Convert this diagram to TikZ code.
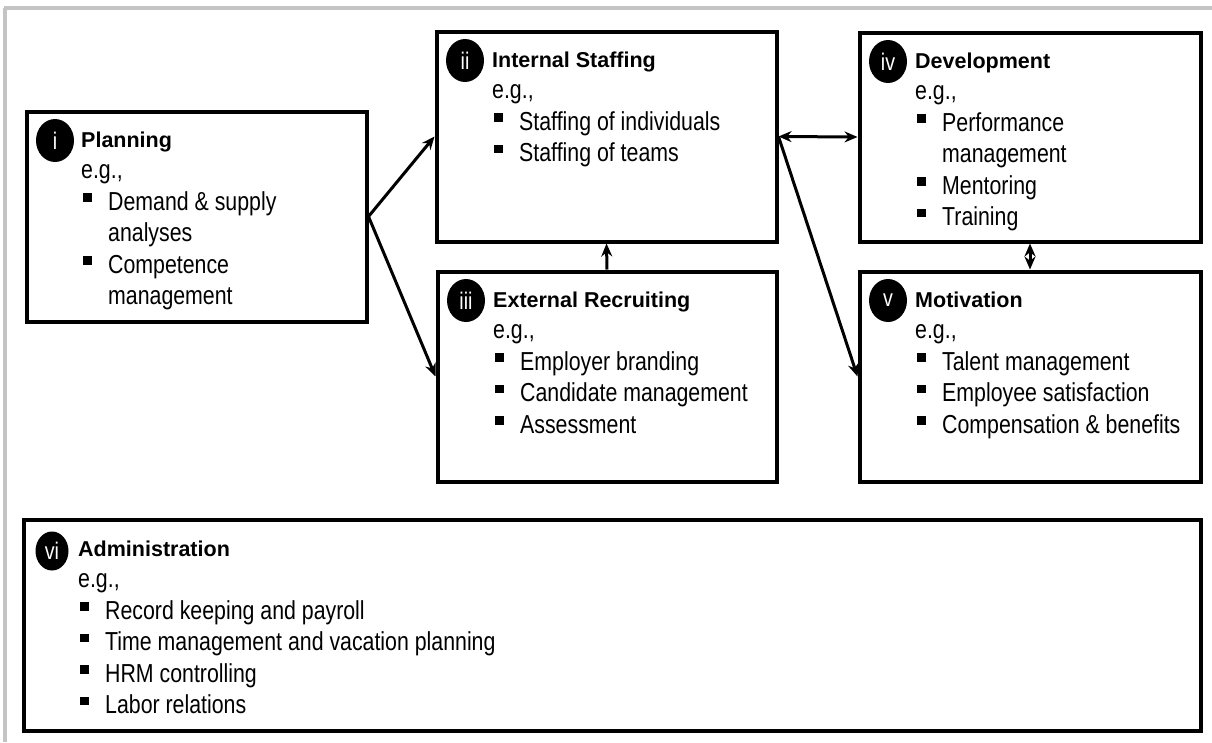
\documentclass[tikz,border=0pt]{standalone}
\usepackage{fontspec}
\setmainfont{Liberation Sans}
\newfontfamily\titlef{Liberation Sans}
\newfontfamily\bodyf{Liberation Sans}[FakeStretch=0.82]
\usetikzlibrary{arrows.meta,shapes.geometric}
\definecolor{framegray}{HTML}{C4C4C4}
\newcommand\blt{\makebox[25pt][l]{\raisebox{8.5pt}{\rule{8.5pt}{8.5pt}}}}
\tikzset{
  x=1pt, y=-1pt,
  hbox/.style={draw=black, line width=4pt, inner sep=0pt, fill=white},
  num/.style={ellipse, fill=black, minimum width=38pt, minimum height=43pt, inner sep=0pt,
              text=white, font=\bodyf\fontsize{24}{26}\selectfont},
  ttl/.style={anchor=base west, inner sep=0pt, font=\titlef\bfseries\fontsize{21.5}{25}\selectfont},
  txt/.style={anchor=base west, inner sep=0pt, font=\bodyf\fontsize{26}{30}\selectfont},
  tip/.style={},
  conn/.style={line width=3pt, -{Stealth[length=13pt,width=11pt]}},
  conn2/.style={line width=3pt, {Stealth[length=13pt,width=11pt]}-{Stealth[length=13pt,width=11pt]}},
}
\begin{document}
\begin{tikzpicture}
\useasboundingbox (0,0) rectangle (1212,742);
\fill[white] (0,0) rectangle (1212,742);
% outer gray frame
\draw[framegray, line width=3.5pt] (4,8) -- (1212,8);
\draw[framegray, line width=3.5pt] (5,8) -- (5,742);

% boxes
\node[hbox, minimum width=340pt, minimum height=210pt] (p) at (196.5,216.5) {};
\node[hbox, minimum width=340pt, minimum height=210pt] (s) at (606.5,136.5) {};
\node[hbox, minimum width=339pt, minimum height=210pt] (r) at (607,376.5) {};
\node[hbox, minimum width=341pt, minimum height=209pt] (d) at (1030,137) {};
\node[hbox, minimum width=341pt, minimum height=210pt] (m) at (1030,376.5) {};
\node[hbox, minimum width=1177pt, minimum height=211pt] (a) at (612,625) {};

% Planning
\node[num] (p-n) at ([shift={(30.5,31)}]p.north west) {i};
\node[ttl] (p-t) at ([shift={(56.5,37.5)}]p.north west) {Planning};
\node[txt] (p-e) at ([shift={(56.5,69)}]p.north west) {e.g.,};
\node[txt] (p-1) at ([shift={(58.5,100.5)}]p.north west) {\blt Demand \& supply};
\node[txt] (p-1b) at ([shift={(83.5,132)}]p.north west) {analyses};
\node[txt] (p-2) at ([shift={(58.5,163.5)}]p.north west) {\blt Competence};
\node[txt] (p-2b) at ([shift={(83.5,195)}]p.north west) {management};

% Internal Staffing
\node[num] (s-n) at ([shift={(30.5,31)}]s.north west) {ii};
\node[ttl] (s-t) at ([shift={(57.5,37.5)}]s.north west) {Internal Staffing};
\node[txt] (s-e) at ([shift={(57.5,69)}]s.north west) {e.g.,};
\node[txt] (s-1) at ([shift={(59.5,100.5)}]s.north west) {\blt Staffing of individuals};
\node[txt] (s-2) at ([shift={(59.5,132)}]s.north west) {\blt Staffing of teams};

% External Recruiting
\node[num] (r-n) at ([shift={(30.5,31)}]r.north west) {iii};
\node[ttl] (r-t) at ([shift={(57.5,37.5)}]r.north west) {External Recruiting};
\node[txt] (r-e) at ([shift={(57.5,69)}]r.north west) {e.g.,};
\node[txt] (r-1) at ([shift={(59.5,100.5)}]r.north west) {\blt Employer branding};
\node[txt] (r-2) at ([shift={(59.5,132)}]r.north west) {\blt Candidate management};
\node[txt] (r-3) at ([shift={(59.5,163.5)}]r.north west) {\blt Assessment};

% Development
\node[num] (d-n) at ([shift={(30.5,31)}]d.north west) {iv};
\node[ttl] (d-t) at ([shift={(57.5,37.5)}]d.north west) {Development};
\node[txt] (d-e) at ([shift={(57.5,69)}]d.north west) {e.g.,};
\node[txt] (d-1) at ([shift={(59.5,100.5)}]d.north west) {\blt Performance};
\node[txt] (d-1b) at ([shift={(84.5,132)}]d.north west) {management};
\node[txt] (d-2) at ([shift={(59.5,163.5)}]d.north west) {\blt Mentoring};
\node[txt] (d-3) at ([shift={(59.5,195)}]d.north west) {\blt Training};

% Motivation
\node[num] (m-n) at ([shift={(30.5,31)}]m.north west) {v};
\node[ttl] (m-t) at ([shift={(57.5,37.5)}]m.north west) {Motivation};
\node[txt] (m-e) at ([shift={(57.5,69)}]m.north west) {e.g.,};
\node[txt] (m-1) at ([shift={(59.5,100.5)}]m.north west) {\blt Talent management};
\node[txt] (m-2) at ([shift={(59.5,132)}]m.north west) {\blt Employee satisfaction};
\node[txt] (m-3) at ([shift={(59.5,163.5)}]m.north west) {\blt Compensation \& benefits};

% Administration
\node[num, minimum width=33pt, minimum height=39pt] (a-n) at ([shift={(30.5,33.5)}]a.north west) {vi};
\node[ttl] (a-t) at ([shift={(56.5,38.5)}]a.north west) {Administration};
\node[txt] (a-e) at ([shift={(56.5,70)}]a.north west) {e.g.,};
\node[txt] (a-1) at ([shift={(58.5,101.5)}]a.north west) {\blt Record keeping and payroll};
\node[txt] (a-2) at ([shift={(58.5,133)}]a.north west) {\blt Time management and vacation planning};
\node[txt] (a-3) at ([shift={(58.5,164.5)}]a.north west) {\blt HRM controlling};
\node[txt] (a-4) at ([shift={(58.5,196)}]a.north west) {\blt Labor relations};

% connectors
\draw[conn] (p.east) -- (s.west);
\draw[conn] (p.east) -- (r.west);
\draw[conn] (r.north) -- (s.south);
\draw[conn2] (s.east) -- (d.west);
\draw[conn2] (d.south) -- (m.north);
\draw[conn] (s.east) -- (m.west);
\end{tikzpicture}
\end{document}
